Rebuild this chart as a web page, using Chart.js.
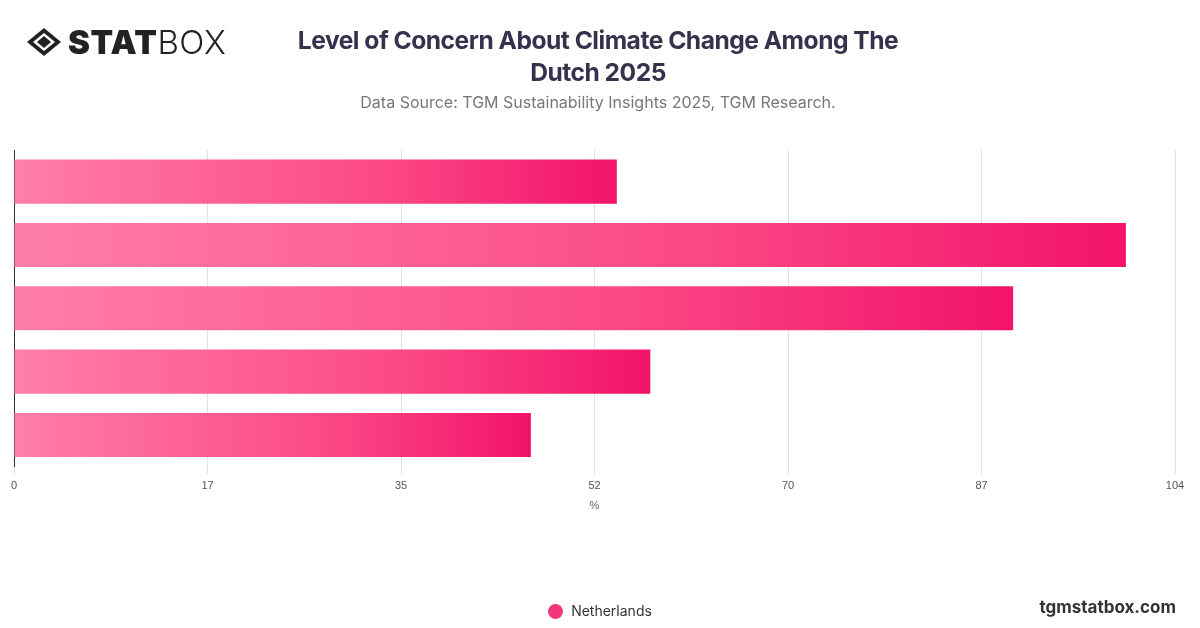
<!DOCTYPE html>
<html lang="en">
  <head>
    <meta charset="UTF-8" />
    <title>Level of Concern About Climate Change Among The Dutch 2025</title>
    <script src="https://cdn.jsdelivr.net/npm/chart.js@4"></script>
    <style>
      body { margin: 0; width: 1200px; height: 628px; position: relative; background: #fff; font-family: Inter, 'Noto Sans', sans-serif; overflow: hidden; }
      #logo { position: absolute; left: 26px; top: 22px; display: flex; align-items: center; font-size: 33px; color: #222; letter-spacing: 0.5px; }
      #logo b { font-weight: 900; }
      #logo span { font-weight: 300; }
      #title { position: absolute; left: 250px; width: 696px; top: 24px; text-align: center; font-size: 24.6px; font-weight: 700; color: #33334d; line-height: 32px; letter-spacing: -0.5px; }
      #source { position: absolute; left: 250px; width: 696px; top: 92px; text-align: center; font-size: 16px; color: #777; }
      #chartBox { position: absolute; left: 0; top: 0; width: 1200px; height: 628px; }
      #legend { position: absolute; left: 0; width: 1200px; top: 602px; text-align: center; font-size: 14px; color: #333; }
      #legend i { display: inline-block; width: 15px; height: 15px; border-radius: 50%; background: #f2357a; vertical-align: -3px; margin-right: 8px; }
      #site { position: absolute; right: 24px; top: 597px; font-size: 17px; font-weight: 700; color: #333; }
    </style>
  </head>
  <body>
    <div id="chartBox"><canvas id="chart"></canvas></div>
    <div id="logo">
      <svg width="36" height="30" viewBox="0 0 36 30">
        <path d="M18 1 L35 15 L18 29 L1 15 Z" fill="#222" />
        <path d="M18 6 L29 15 L18 24 L7 15 Z" fill="#fff" />
        <path d="M18 9 L25 15 L18 21 L11 15 Z" fill="#222" />
      </svg>
      <b style="margin-left:6px">STAT</b><span>BOX</span>
    </div>
    <div id="title">Level of Concern About Climate Change Among The<br />Dutch 2025</div>
    <div id="source">Data Source: TGM Sustainability Insights 2025, TGM Research.</div>
    <div id="legend"><i></i>Netherlands</div>
    <div id="site">tgmstatbox.com</div>
    <script>
      const categories = ['Very concerned', 'Concerned (total)', 'Somewhat concerned', 'Moderately concerned', 'Slightly concerned']
      const values = [54, 99.6, 89.5, 57, 46.3]
      const tickValues = [0, 17, 35, 52, 70, 87, 104]
      const seriesName = 'Netherlands'

      function barFill(ctx) {
        const chart = ctx.chart
        const area = chart.chartArea
        if (!area) return '#f2357a'
        const x = chart.scales.x.getPixelForValue(ctx.raw)
        const g = chart.ctx.createLinearGradient(area.left, 0, x, 0)
        g.addColorStop(0, '#ff7eaa')
        g.addColorStop(0.6, '#fb4a86')
        g.addColorStop(1, '#f2136a')
        return g
      }

      new Chart(document.getElementById('chart'), {
        type: 'bar',
        data: {
          labels: categories,
          datasets: [{ label: seriesName, data: values, backgroundColor: barFill, categoryPercentage: 0.8, barPercentage: 0.87 }]
        },
        options: {
          indexAxis: 'y',
          responsive: true,
          maintainAspectRatio: false,
          animation: false,
          layout: { padding: { top: 150, left: 6, right: 25, bottom: 111 } },
          plugins: { legend: { display: false }, tooltip: { enabled: false } },
          scales: {
            x: {
              min: 0,
              max: 104,
              afterBuildTicks: axis => { axis.ticks = [0, 1, 2, 3, 4, 5, 6].map(i => ({ value: (104 / 6) * i })) },
              ticks: { callback: (v, i) => tickValues[i], color: '#555', font: { size: 11 }, maxRotation: 0, padding: 5 },
              grid: { color: '#e2e2e2', drawTicks: true, tickLength: 8 },
              border: { display: false },
              title: { display: true, text: '%', color: '#666', font: { size: 11 }, padding: { top: 2 } }
            },
            y: {
              ticks: { display: false },
              grid: { display: false },
              border: { display: true, color: '#333', width: 1 }
            }
          }
        }
      })
    </script>
  </body>
</html>
